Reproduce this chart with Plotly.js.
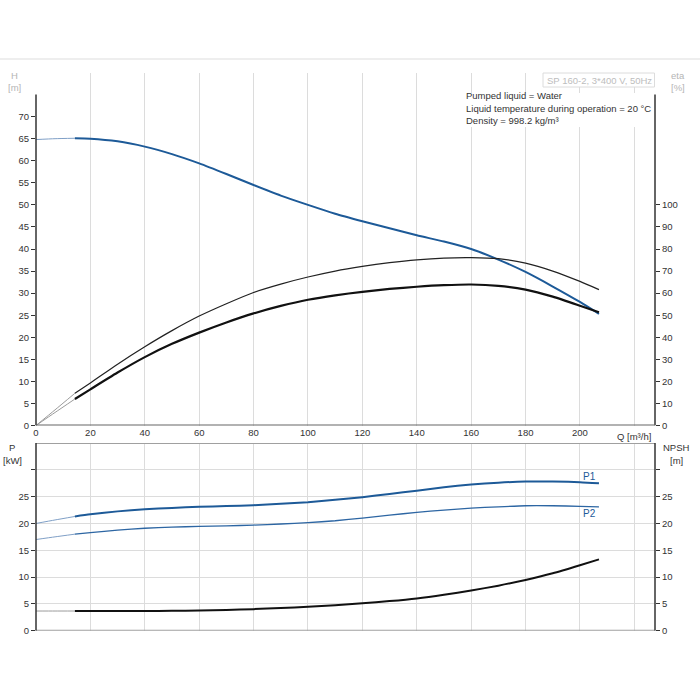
<!DOCTYPE html>
<html>
<head>
<meta charset="utf-8">
<script src="https://cdn.plot.ly/plotly-3.0.1.min.js"></script>
<style>html,body{margin:0;padding:0;background:#fff;}#chart{width:700px;height:700px;}</style>
</head>
<body>
<div id="chart"></div>
<script>
// ---------- data ----------
const qStart = [0, 7, 14.3];
const qMain = [14.3, 20, 30, 40, 50, 60, 70, 80, 90, 100, 110, 120, 130, 140, 150, 160, 170, 180, 190, 200, 207];

const headStart = [64.8, 65.0, 65.1];
const headMain = [65.1, 65.0, 64.4, 63.2, 61.5, 59.4, 57.0, 54.5, 52.1, 50.0, 48.0, 46.3, 44.7, 43.1, 41.7, 40.0, 37.6, 34.8, 31.5, 28.0, 25.3];

const etaPumpStart = [0, 7.1, 14.6];
const etaPumpMain = [14.6, 19.3, 27.8, 35.7, 43.0, 49.6, 55.2, 60.3, 64.1, 67.3, 70.0, 72.1, 73.8, 75.1, 75.9, 76.1, 75.6, 73.6, 70.0, 65.3, 61.6];

const etaTotalStart = [0, 5.9, 12.0];
const etaTotalMain = [12.0, 16.4, 24.0, 31.0, 37.0, 42.1, 46.7, 50.8, 54.2, 57.0, 59.0, 60.6, 61.9, 62.9, 63.6, 63.9, 63.3, 61.6, 58.4, 54.3, 51.3];

const p1Start = [20.0, 20.65, 21.3];
const p1Main = [21.3, 21.7, 22.25, 22.65, 22.9, 23.1, 23.25, 23.4, 23.65, 23.95, 24.4, 24.9, 25.5, 26.1, 26.75, 27.25, 27.6, 27.8, 27.8, 27.7, 27.5];

const p2Start = [17.0, 17.5, 18.0];
const p2Main = [18.0, 18.3, 18.75, 19.1, 19.3, 19.45, 19.55, 19.7, 19.9, 20.15, 20.5, 21.0, 21.55, 22.05, 22.5, 22.85, 23.1, 23.3, 23.3, 23.2, 23.1];

const npshStart = [3.67, 3.67, 3.67];
const npshMain = [3.67, 3.67, 3.67, 3.68, 3.71, 3.76, 3.86, 4.02, 4.22, 4.46, 4.75, 5.1, 5.52, 6.02, 6.7, 7.5, 8.4, 9.45, 10.7, 12.2, 13.3];

const qTicks = [0, 20, 40, 60, 80, 100, 120, 140, 160, 180, 200, 220];
const qTickText = ['0', '20', '40', '60', '80', '100', '120', '140', '160', '180', '200', ''];
const hTicks = [0, 5, 10, 15, 20, 25, 30, 35, 40, 45, 50, 55, 60, 65, 70];
const etaTicks = [0, 10, 20, 30, 40, 50, 60, 70, 80, 90, 100];
const pTicks = [0, 5, 10, 15, 20, 25, 30];
const pTickText = ['0', '5', '10', '15', '20', '25', ''];

const infoLines = ['Pumped liquid = Water', 'Liquid temperature during operation = 20 °C', 'Density = 998.2 kg/m³'];
const pumpTitle = 'SP 160-2, 3*400 V, 50Hz';

// ---------- styling ----------
const BLUE = '#1d5a98';
const BLUE_LIGHT = '#7f9fc6';
const BLACK = '#111111';
const GREY_THIN = '#9a9a9a';
const GRID = '#dcdcdc';
const FONT = 'Liberation Sans, Arial, sans-serif';

const px = v => v / 700;
const py = v => 1 - v / 700;

function line(x, y, xa, ya, color, width) {
  return {x: x, y: y, xaxis: xa, yaxis: ya, type: 'scatter', mode: 'lines',
          line: {color: color, width: width, shape: 'spline', smoothing: 0.6}, hoverinfo: 'skip'};
}

const traces = [
  // top: head
  line(qStart, headStart, 'x', 'y', BLUE_LIGHT, 1),
  line(qMain, headMain, 'x', 'y', BLUE, 2),
  // top: efficiencies (right axis)
  line(qStart, etaPumpStart, 'x', 'y3', GREY_THIN, 1),
  line(qMain, etaPumpMain, 'x', 'y3', '#222222', 1.2),
  line(qStart, etaTotalStart, 'x', 'y3', GREY_THIN, 1),
  line(qMain, etaTotalMain, 'x', 'y3', BLACK, 2.2),
  // bottom: power
  line(qStart, p1Start, 'x2', 'y2', BLUE_LIGHT, 1),
  line(qMain, p1Main, 'x2', 'y2', BLUE, 2),
  line(qStart, p2Start, 'x2', 'y2', BLUE_LIGHT, 1),
  line(qMain, p2Main, 'x2', 'y2', '#2d66a3', 1.3),
  // bottom: NPSH
  line(qStart, npshStart, 'x2', 'y4', GREY_THIN, 1),
  line(qMain, npshMain, 'x2', 'y4', BLACK, 2)
];

const xDom = [px(36), px(655)];
const topDom = [py(425.5), py(72.5)];
const botDom = [py(630.7), py(443)];
const tickFont = {family: FONT, size: 9.5, color: '#333'};

const layout = {
  width: 700, height: 700,
  margin: {l: 0, r: 0, t: 0, b: 0},
  paper_bgcolor: '#fff', plot_bgcolor: '#fff',
  showlegend: false,
  font: {family: FONT, size: 9.5, color: '#333'},
  xaxis: {domain: xDom, range: [0, 227.6], anchor: 'y', tickvals: qTicks, ticktext: qTickText,
          showgrid: true, gridcolor: GRID, gridwidth: 1, zeroline: false, showline: false, ticks: '',
          tickfont: tickFont, fixedrange: true},
  yaxis: {domain: topDom, range: [0, 80], anchor: 'x', tickvals: hTicks, ticks: 'outside', ticklen: 4,
          tickcolor: '#333', showgrid: false, zeroline: false, showline: false, tickfont: tickFont},
  yaxis5: {overlaying: 'y', anchor: 'x', range: [0, 80], tick0: 0, dtick: 5, showgrid: true, gridcolor: GRID,
           showticklabels: false, ticks: '', zeroline: false, showline: false},
  yaxis3: {overlaying: 'y', anchor: 'x', side: 'right', range: [0, 160], tickvals: etaTicks, ticks: 'outside',
           ticklen: 4, tickcolor: '#333', showgrid: false, zeroline: false, showline: false, tickfont: tickFont},
  xaxis2: {domain: xDom, range: [0, 227.6], anchor: 'y2', tickvals: qTicks, showticklabels: false,
           showgrid: true, gridcolor: GRID, zeroline: false, showline: false, ticks: ''},
  yaxis2: {domain: botDom, range: [0, 35], anchor: 'x2', tickvals: pTicks, ticktext: pTickText,
           ticks: 'outside', ticklen: 4, tickcolor: '#333', showgrid: true, gridcolor: GRID,
           zeroline: false, showline: false, tickfont: tickFont},
  yaxis4: {overlaying: 'y2', anchor: 'x2', side: 'right', range: [0, 35], tickvals: pTicks, ticktext: pTickText,
           ticks: 'outside', ticklen: 4, tickcolor: '#333', showgrid: false, zeroline: false, showline: false,
           tickfont: tickFont},
  shapes: [
    // page separator line
    {type: 'line', xref: 'paper', yref: 'paper', x0: 0, x1: 1, y0: py(59), y1: py(59), line: {color: '#dddddd', width: 1}},
    // white box behind info text
    {type: 'rect', xref: 'paper', yref: 'paper', x0: px(460), x1: px(653), y0: py(127), y1: py(93),
     fillcolor: '#fff', line: {width: 0}, layer: 'above'},
    // pump title box
    {type: 'rect', xref: 'paper', yref: 'paper', x0: px(543), x1: px(654.5), y0: py(87), y1: py(73),
     fillcolor: '#fff', line: {color: '#dcdcdc', width: 1}, layer: 'above'},
    // top chart axis lines
    {type: 'line', xref: 'x domain', yref: 'y', x0: 0, x1: 0, y0: 0, y1: 75, line: {color: '#333', width: 1.5}},
    {type: 'line', xref: 'x domain', yref: 'y', x0: 1, x1: 1, y0: 0, y1: 75, line: {color: '#333', width: 1.5}},
    {type: 'line', xref: 'x domain', yref: 'y', x0: 0, x1: 1, y0: 0, y1: 0, line: {color: '#666', width: 2}},
    // bottom chart frame
    {type: 'line', xref: 'x2 domain', yref: 'y2', x0: 0, x1: 1, y0: 35, y1: 35, line: {color: '#a0a0a0', width: 2}},
    {type: 'line', xref: 'x2 domain', yref: 'y2', x0: 0, x1: 1, y0: 0, y1: 0, line: {color: '#a0a0a0', width: 2}},
    {type: 'line', xref: 'x2 domain', yref: 'y2', x0: 0, x1: 0, y0: 0, y1: 35, line: {color: '#333', width: 1.5}},
    {type: 'line', xref: 'x2 domain', yref: 'y2', x0: 1, x1: 1, y0: 0, y1: 35, line: {color: '#333', width: 1.5}}
  ],
  annotations: []
};

function ann(text, x, y, opts) {
  return Object.assign({text: text, x: x, y: y, xref: 'paper', yref: 'paper', showarrow: false,
                        xanchor: 'center', yanchor: 'middle', font: {family: FONT, size: 9.5, color: '#333'}}, opts || {});
}
const axisLabelGrey = {family: FONT, size: 9.5, color: '#b5b5b5'};
layout.annotations.push(
  ann('H', px(14), py(76), {font: axisLabelGrey}),
  ann('[m]', px(14), py(88), {font: axisLabelGrey}),
  ann('eta', px(678), py(76), {font: axisLabelGrey}),
  ann('[%]', px(678), py(88), {font: axisLabelGrey}),
  ann('P', px(12), py(447)),
  ann('[kW]', px(12), py(460)),
  ann('NPSH', px(676), py(447)),
  ann('[m]', px(676), py(460)),
  ann('Q [m³/h]', px(653), py(436), {xanchor: 'right'}),
  ann(pumpTitle, px(599), py(80), {font: {family: FONT, size: 9.5, color: '#bdbdbd'}})
);
infoLines.forEach((t, i) => {
  layout.annotations.push(ann(t, px(464), py(96 + i * 12.5), {xanchor: 'left'}));
});
// curve labels placed from the data ends
const qEnd = qMain[qMain.length - 1];
layout.annotations.push(
  {text: 'P1', x: qEnd - 3.5, y: p1Main[p1Main.length - 1] + 1.3, xref: 'x2', yref: 'y2', showarrow: false,
   font: {family: FONT, size: 10, color: BLUE}},
  {text: 'P2', x: qEnd - 3.5, y: p2Main[p2Main.length - 1] - 1.3, xref: 'x2', yref: 'y2', showarrow: false,
   font: {family: FONT, size: 10, color: BLUE}}
);

Plotly.newPlot('chart', traces, layout, {displayModeBar: false, staticPlot: true});
</script>
</body>
</html>
